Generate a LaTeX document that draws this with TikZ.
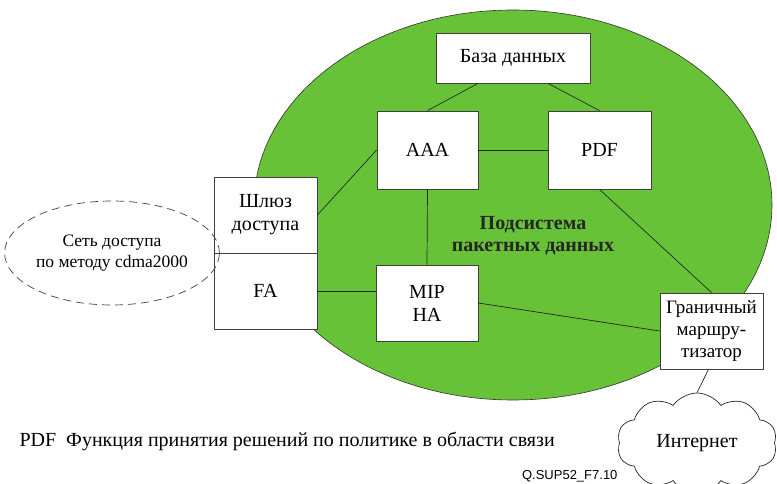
\documentclass[tikz,border=0pt]{standalone}
\usepackage{fontspec}
\setmainfont{Liberation Serif}
\newfontfamily\codefont{Liberation Sans}
\usetikzlibrary{shapes.geometric,shapes.symbols,positioning}
\definecolor{netgreen}{RGB}{104,194,56}
\definecolor{edgegray}{RGB}{64,64,64}

\begin{document}
\begin{tikzpicture}
  [
    x=1pt, y=-1pt,
    Box/.style={rectangle, draw=edgegray, fill=white, line width=0.8pt, align=center, inner sep=0pt, font=\rmfamily\fontsize{20}{23}\selectfont},
    Link/.style={draw=black!85, line width=0.7pt}
  ]
  \useasboundingbox (0,0) rectangle (777,484);

  % Nodes
  \node[ellipse, draw=black!80, fill=netgreen, line width=0.6pt, minimum width=518pt, minimum height=390pt, inner sep=0pt] (psdn) at(513, 205) {};
  \node[align=center, font=\rmfamily\bfseries\fontsize{20}{22}\selectfont, text=black!85] (psdnlabel) at(533, 236) {Подсистема\\пакетных данных};
  \node[Box, minimum width=154pt, minimum height=50pt] (db) at(513, 58) {База данных};
  \node[Box, minimum width=101pt, minimum height=78pt] (aaa) at(427.5, 150) {AAA};
  \node[Box, minimum width=103pt, minimum height=78pt] (pdf) at(599.5, 150) {PDF};
  \node[Box, minimum width=103pt, minimum height=76pt] (gw) at(265.5, 215) {Шлюз\\доступа};
  \node[Box, minimum width=103pt, minimum height=76pt] (fa) at(265.5, 291) {FA};
  \node[Box, minimum width=102pt, minimum height=76pt] (mip) at(427, 303) {MIP\\HA};
  \node[Box, minimum width=103pt, minimum height=76pt, font=\rmfamily\fontsize{19}{22}\selectfont] (br) at(711.5, 331) {Граничный\\маршру-\\тизатор};
  \node[ellipse, draw=black!75, dash pattern=on 8pt off 5pt, line width=0.7pt, minimum width=204pt, minimum height=104pt, inner sep=0pt, align=center, font=\rmfamily\fontsize{17.5}{21}\selectfont] (ran) at(112, 253) {Сеть доступа\\по методу cdma2000};
  \node[cloud, cloud puffs=10, cloud puff arc=110, aspect=1.6, draw=black!85, fill=white, line width=0.7pt, minimum width=160pt, minimum height=100pt, inner sep=0pt, font=\rmfamily\fontsize{20}{23}\selectfont] (inet) at(697, 443) {Интернет};
  \node[anchor=west, font=\rmfamily\fontsize{20}{23}\selectfont] (legend) at(16, 441) {PDF\enspace Функция принятия решений по политике в области связи};
  \node[anchor=base east, font=\codefont\fontsize{13}{15}\selectfont] (figcode) at(621, 479) {Q.SUP52\_F7.10};

  % Lines
  \path [Link] ([xshift=-35pt]db.south) -- (aaa.north);
  \path [Link] ([xshift=35pt]db.south) -- (pdf.north);
  \path [Link] (aaa.east) -- (pdf.west);
  \path [Link] (aaa.south) -- (mip.north);
  \path [Link] (gw.east) -- (aaa.west);
  \path [Link] (fa.east) -- (fa.east -| mip.west);
  \path [Link] (mip.east) -- (br.west);
  \path [Link] (pdf.south) -- (br.north);
  \path [Link] ([xshift=-3pt]br.south) -- (inet.north);

\end{tikzpicture}
\end{document}
